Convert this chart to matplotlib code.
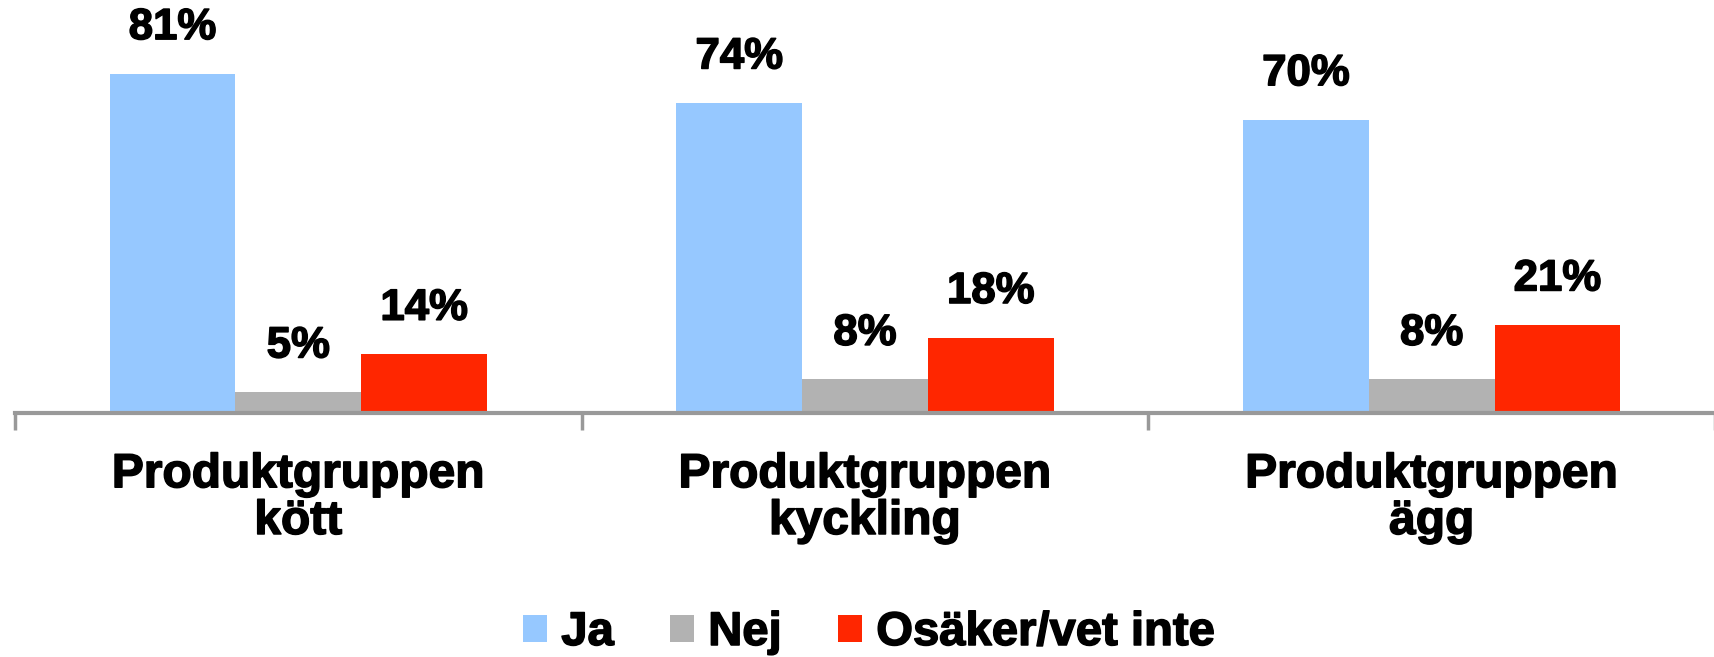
import numpy as np
import matplotlib
matplotlib.use("Agg")
import matplotlib.pyplot as plt
import matplotlib.patheffects as pe
from matplotlib.patches import Patch

plt.rcParams['font.family'] = ['Liberation Sans', 'DejaVu Sans']
plt.rcParams['font.weight'] = 'bold'

categories = ["Produktgruppen\nkött", "Produktgruppen\nkyckling", "Produktgruppen\nägg"]
series = ["Ja", "Nej", "Osäker/vet inte"]
ja = [81, 74, 70]
nej = [5, 8, 8]
osaker = [14, 18, 21]
colors = ["#96C8FF", "#B2B2B2", "#FF2600"]

# thicken text a bit, the original font is heavier than Liberation bold
heavy = [pe.withStroke(linewidth=1.1, foreground='black')]

fig = plt.figure(figsize=(17.15, 6.57), dpi=100)
ax = fig.add_axes([15/1715, 1 - 413/657, 1700/1715, 413/657])

x = np.arange(len(categories))
w = 0.222
for i, (vals, col) in enumerate(zip([ja, nej, osaker], colors)):
    pos = x + (i - 1) * w
    ax.bar(pos, vals, width=w, color=col, zorder=2)
    for p, v in zip(pos, vals):
        ax.text(p, v + 11, f"{v}%", ha='center', va='center', fontsize=31.5,
                fontweight='bold', path_effects=heavy)

ax.set_xlim(-0.5, 2.5)
ax.set_ylim(0, 98.6)
for s in ['top', 'right', 'left']:
    ax.spines[s].set_visible(False)
ax.spines['bottom'].set_color('#999999')
ax.spines['bottom'].set_linewidth(3)
ax.set_yticks([])
ax.set_xticks([-0.5, 0.5, 1.5, 2.5])
ax.set_xticklabels([])
ax.tick_params(axis='x', which='major', length=12, width=2.5, color='#999999', direction='out')

for xi, lab in zip(x, categories):
    ax.text(xi, -0.095, lab, transform=ax.get_xaxis_transform(), ha='center', va='top',
            fontsize=34.5, fontweight='bold', linespacing=1.05, path_effects=heavy)

handles = [Patch(facecolor=c, edgecolor='none') for c in colors]
leg = fig.legend(handles, series, loc='center', bbox_to_anchor=(0.507, 1 - 633/657), ncol=3,
                 frameon=False, prop={'size': 34, 'weight': 'bold'}, handlelength=0.5,
                 handleheight=0.5, handletextpad=0.3, columnspacing=1.2, borderpad=0)
for t in leg.get_texts():
    t.set_path_effects(heavy)

fig.savefig("out.png", dpi=100)
